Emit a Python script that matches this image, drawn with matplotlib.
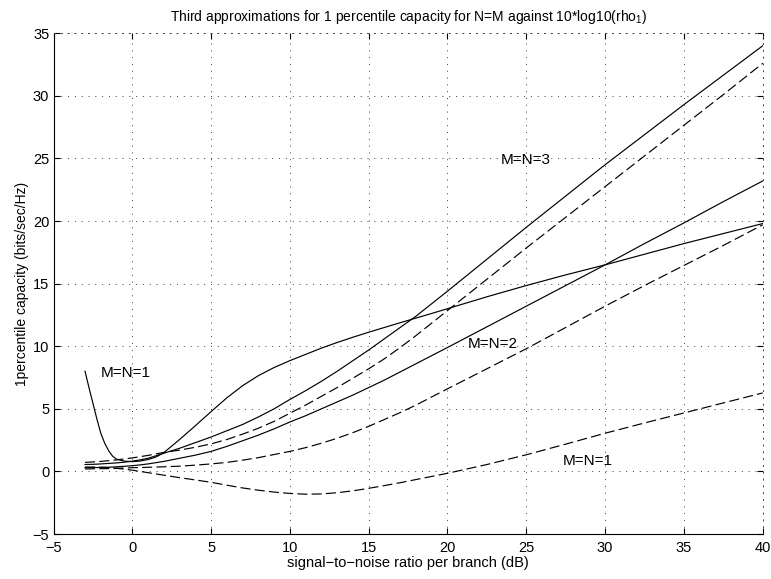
import matplotlib
matplotlib.use("Agg")
import matplotlib.pyplot as plt

plt.rcParams['font.family'] = ['Liberation Sans', 'DejaVu Sans']
plt.rcParams['mathtext.fontset'] = 'custom'
plt.rcParams['mathtext.rm'] = 'Liberation Sans'
plt.rcParams['mathtext.it'] = 'Liberation Sans:italic'
plt.rcParams['mathtext.default'] = 'regular'

snr_db = [-3, -2.75, -2.5, -2.25, -2, -1.75, -1.5, -1.25, -1, -0.5, 0, 0.5,
          1, 1.5, 2, 3, 4, 5, 6, 7, 8, 9, 10, 11, 12, 13, 14, 15, 16, 17, 18,
          19, 20, 22.5, 25, 27.5, 30, 32.5, 35, 37.5, 40]

mn1_solid = [8.0, 6.7, 5.45, 4.2, 3.05, 2.25, 1.65, 1.22, 0.98, 0.82, 0.78,
             0.83, 0.95, 1.15, 1.5, 2.55, 3.65, 4.78, 5.88, 6.85, 7.65, 8.3,
             8.85, 9.35, 9.85, 10.3, 10.72, 11.12, 11.5, 11.88, 12.25, 12.62,
             13.0, 13.95, 14.85, 15.7, 16.5, 17.35, 18.2, 19.0, 19.8]
mn3_solid = [0.55, 0.56, 0.57, 0.58, 0.6, 0.62, 0.64, 0.66, 0.68, 0.74, 0.82,
             0.92, 1.05, 1.25, 1.45, 1.85, 2.3, 2.75, 3.25, 3.75, 4.35, 5.0,
             5.75, 6.45, 7.2, 8.0, 8.85, 9.7, 10.6, 11.5, 12.4, 13.4, 14.4,
             16.95, 19.5, 22.0, 24.5, 26.9, 29.3, 31.65, 34.0]
mn3_dashed = [0.72, 0.74, 0.76, 0.78, 0.8, 0.83, 0.86, 0.89, 0.92, 1.0, 1.08,
              1.18, 1.28, 1.4, 1.52, 1.7, 1.93, 2.2, 2.55, 2.98, 3.45, 4.0,
              4.65, 5.3, 6.0, 6.7, 7.45, 8.2, 9.0, 9.9, 10.85, 11.85, 12.85,
              15.35, 17.85, 20.3, 22.75, 25.2, 27.65, 30.1, 32.6]
mn2_solid = [0.3, 0.3, 0.31, 0.31, 0.32, 0.33, 0.34, 0.35, 0.37, 0.41, 0.46,
             0.52, 0.6, 0.7, 0.8, 1.05, 1.3, 1.6, 2.0, 2.45, 2.9, 3.4, 3.95,
             4.45, 5.0, 5.55, 6.1, 6.7, 7.3, 7.95, 8.6, 9.25, 9.9, 11.55,
             13.2, 14.85, 16.5, 18.2, 19.85, 21.55, 23.2]
mn2_dashed = [0.2, 0.2, 0.21, 0.21, 0.22, 0.22, 0.23, 0.24, 0.25, 0.27, 0.3,
              0.31, 0.33, 0.35, 0.37, 0.42, 0.5, 0.6, 0.72, 0.9, 1.1, 1.35,
              1.6, 1.9, 2.25, 2.65, 3.1, 3.6, 4.15, 4.7, 5.3, 5.95, 6.6, 8.2,
              9.8, 11.5, 13.2, 14.85, 16.45, 18.05, 19.7]
mn1_dashed = [0.35, 0.35, 0.35, 0.34, 0.33, 0.32, 0.3, 0.28, 0.25, 0.18, 0.1,
              0.0, -0.1, -0.2, -0.3, -0.5, -0.68, -0.87, -1.1, -1.32, -1.5,
              -1.65, -1.76, -1.82, -1.8, -1.7, -1.55, -1.35, -1.13, -0.9,
              -0.65, -0.4, -0.15, 0.55, 1.33, 2.18, 3.05, 3.87, 4.67, 5.47,
              6.27]

labels = ["M=N=1", "M=N=2", "M=N=1", "M=N=3"]
label_x = [-2.0, 21.3, 27.3, 23.4]
label_y = [7.9, 10.15, 0.83, 24.9]

fig = plt.figure(figsize=(7.71, 5.79), dpi=100)
ax = fig.add_axes([0.0694, 0.0777, 0.9198, 0.8648])

lw = 0.85
dash = (8.5, 3.6)
ax.plot(snr_db, mn1_solid, color='black', lw=lw)
ax.plot(snr_db, mn3_solid, color='black', lw=lw)
ax.plot(snr_db, mn2_solid, color='black', lw=lw)
ax.plot(snr_db, mn3_dashed, color='black', lw=lw, dashes=dash)
ax.plot(snr_db, mn2_dashed, color='black', lw=lw, dashes=dash)
ax.plot(snr_db, mn1_dashed, color='black', lw=lw, dashes=dash)

for t, xx, yy in zip(labels, label_x, label_y):
    ax.text(xx, yy, t, fontsize=11, ha='left', va='center')

ax.set_xlim(-5, 40)
ax.set_ylim(-5, 35)
ax.set_xticks(range(-5, 41, 5))
ax.set_yticks(range(-5, 36, 5))
ax.set_xticklabels(['\u22125'] + [str(v) for v in range(0, 41, 5)])
ax.set_yticklabels(['\u22125'] + [str(v) for v in range(0, 36, 5)])

ax.grid(True, color='0.25', lw=0.7, dashes=(1, 6))
ax.tick_params(direction='in', length=4.5, width=0.8, top=True, right=True,
               labelsize=10.5)
ax.tick_params(axis='x', pad=5)
ax.tick_params(axis='y', pad=3)

for s in ['left', 'bottom']:
    ax.spines[s].set_linewidth(0.8)
    ax.spines[s].set_color('black')
for s in ['top', 'right']:
    ax.spines[s].set_linewidth(0.7)
    ax.spines[s].set_linestyle((0, (1, 6)))
    ax.spines[s].set_color('0.25')

ax.set_title(r'Third approximations for 1 percentile capacity for N=M against 10*log10(rho$_1$)',
             fontsize=10, pad=9)
ax.set_xlabel('signal\u2212to\u2212noise ratio per branch (dB)', fontsize=10.5, labelpad=1)
ax.set_ylabel('1percentile capacity (bits/sec/Hz)', fontsize=10, labelpad=3)

fig.savefig('out.png', dpi=100)
